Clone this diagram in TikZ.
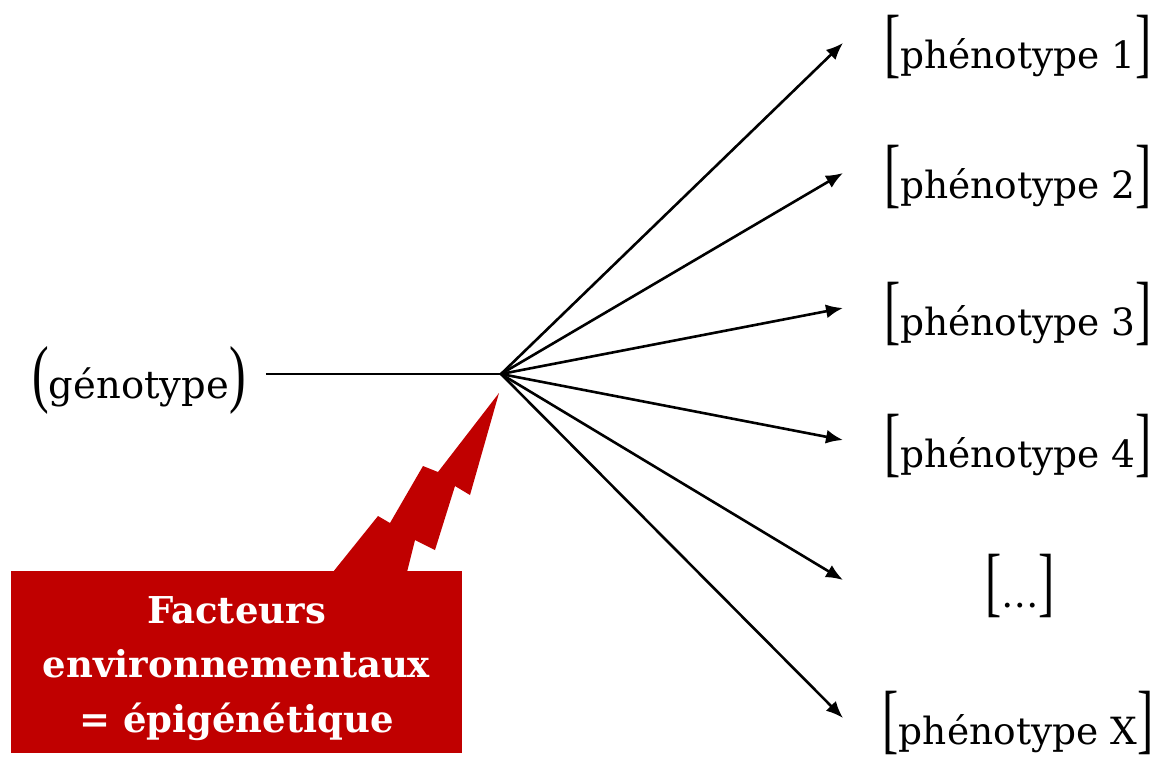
\documentclass[tikz,border=0pt]{standalone}
\usepackage{fontspec}
\setmainfont{DejaVu Serif}
\newfontfamily\brkfont{Liberation Serif}
\usepackage{graphicx}
\usetikzlibrary{arrows.meta, positioning, calc}
\definecolor{mred}{HTML}{C00000}
\newcommand{\lbk}{\scalebox{1.3}[2.05]{\brkfont[}}
\newcommand{\rbk}{\scalebox{1.3}[2.05]{\brkfont]}}
\newcommand{\lpar}{\scalebox{1.3}[1.95]{\brkfont(}}
\newcommand{\rpar}{\scalebox{1.3}[1.95]{\brkfont)}}
\tikzset{
  lbl/.style={font=\fontsize{37.5}{45}\selectfont, inner sep=0pt, anchor=base},
  envbox/.style={fill=mred, text=white, minimum width=451pt, minimum height=182pt,
                 align=center, inner sep=0pt, font=\fontsize{37}{54.5}\selectfont\bfseries},
  arr/.style={-{Latex[length=17pt,width=14pt]}, line width=2.6pt, black},
  ln/.style={line width=2.6pt, black},
}
\begin{document}
\begin{tikzpicture}[x=1pt, y=-1pt]
  \useasboundingbox (0,0) rectangle (1170,764);
  \coordinate (hub) at (501,374);
  \coordinate (tips) at (843,0);
  \node[lbl, font=\fontsize{38.5}{45}\selectfont] (gen) at (139,398) {\lpar génotype\rpar};
  \node[lbl] (p1) at (1018,68) {\lbk phénotype 1\rbk};
  \node[lbl] (p2) at (1018,198) {\lbk phénotype 2\rbk};
  \node[lbl] (p3) at (1018,335) {\lbk phénotype 3\rbk};
  \node[lbl] (p4) at (1018,467) {\lbk phénotype 4\rbk};
  \node[lbl] (pd) at (1020,607) {\lbk …\rbk};
  \node[lbl] (px) at (1018,744) {\lbk phénotype X\rbk};
  \node[envbox] (env) at (236.5,662) {\rule{0pt}{40pt}Facteurs\\environnementaux\\= épigénétique};
  \fill[mred] (499,393) -- (438,472) -- (423,466) -- (390,523) -- (378,516) -- (333,572)
    -- (407,572) -- (415,540) -- (435,550) -- (455,486) -- (470,495) -- cycle;
  \draw[ln, shorten <=20pt] (gen.east |- hub) -- (hub);
  \draw[arr] (hub) -- ($(tips |- p1.base)+(0,-25)$);
  \draw[arr] (hub) -- ($(tips |- p2.base)+(0,-25)$);
  \draw[arr] (hub) -- ($(tips |- p3.base)+(0,-27)$);
  \draw[arr] (hub) -- ($(tips |- p4.base)+(0,-27)$);
  \draw[arr] (hub) -- ($(tips |- pd.base)+(0,-27)$);
  \draw[arr] (hub) -- ($(tips |- px.base)+(0,-26)$);
\end{tikzpicture}
\end{document}
